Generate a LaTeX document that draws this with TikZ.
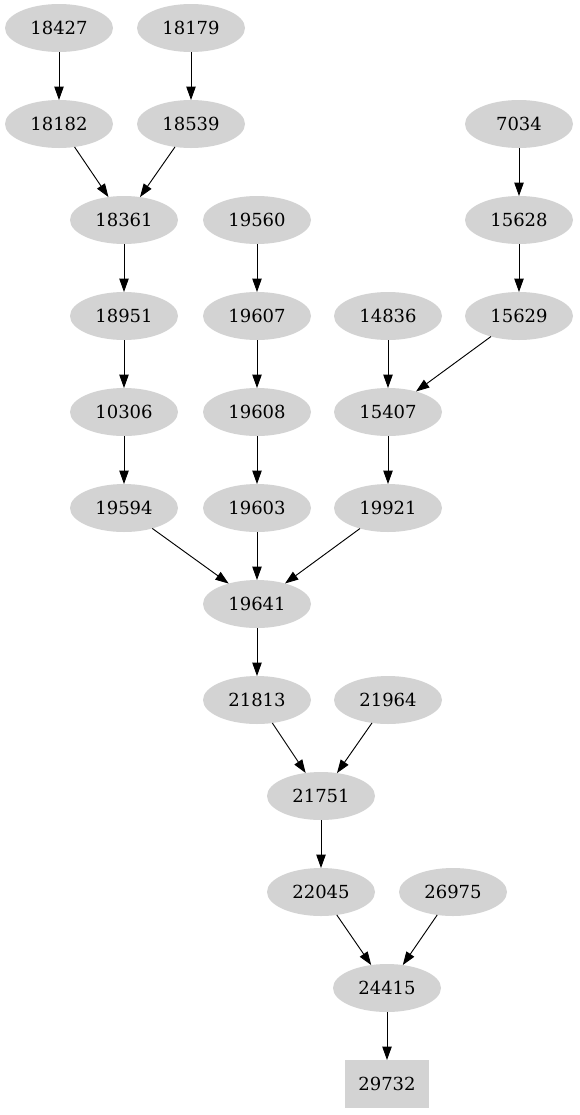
\documentclass[tikz,border=0pt]{standalone}
\usepackage{fontspec}
\setmainfont{DejaVu Serif}
\usetikzlibrary{shapes.geometric,arrows.meta}
\definecolor{nodegray}{RGB}{211,211,211}

\begin{document}
\begin{tikzpicture}[
  x=0.75pt, y=-0.75pt,
  every node/.style={font=\fontsize{13.5pt}{16pt}\selectfont},
  job/.style={ellipse, fill=nodegray, minimum width=81pt, minimum height=36pt, inner sep=0pt, outer sep=0pt},
  sink/.style={rectangle, fill=nodegray, minimum width=63pt, minimum height=36pt, inner sep=0pt, outer sep=0pt},
  arr/.style={-{Triangle[length=10pt, width=7pt]}, draw=black, line width=0.7pt}
]
\useasboundingbox (0,0) rectangle (579,1115);

% Rank 1
\node[job] (n18427) at (59,28) {18427};
\node[job] (n18179) at (191,28) {18179};

% Rank 2
\node[job] (n18182) at (59,124) {18182};
\node[job] (n18539) at (191,124) {18539};
\node[job] (n7034) at (519,124) {7034};

% Rank 3
\node[job] (n18361) at (124,220) {18361};
\node[job] (n19560) at (257,220) {19560};
\node[job] (n15628) at (519,220) {15628};

% Rank 4
\node[job] (n18951) at (124,316) {18951};
\node[job] (n19607) at (257,316) {19607};
\node[job] (n14836) at (388,316) {14836};
\node[job] (n15629) at (519,316) {15629};

% Rank 5
\node[job] (n10306) at (124,412) {10306};
\node[job] (n19608) at (257,412) {19608};
\node[job] (n15407) at (388,412) {15407};

% Rank 6
\node[job] (n19594) at (124,508) {19594};
\node[job] (n19603) at (257,508) {19603};
\node[job] (n19921) at (388,508) {19921};

% Rank 7
\node[job] (n19641) at (257,604) {19641};

% Rank 8
\node[job] (n21813) at (257,700) {21813};
\node[job] (n21964) at (388,700) {21964};

% Rank 9
\node[job] (n21751) at (321,796) {21751};

% Rank 10
\node[job] (n22045) at (321,892) {22045};
\node[job] (n26975) at (453,892) {26975};

% Rank 11
\node[job] (n24415) at (387,988) {24415};

% Rank 12
\node[sink] (n29732) at (387,1084) {29732};

% Edges
\draw[arr] (n18427) -- (n18182);
\draw[arr] (n18179) -- (n18539);
\draw[arr] (n18182) -- (n18361);
\draw[arr] (n18539) -- (n18361);
\draw[arr] (n7034) -- (n15628);
\draw[arr] (n18361) -- (n18951);
\draw[arr] (n19560) -- (n19607);
\draw[arr] (n15628) -- (n15629);
\draw[arr] (n18951) -- (n10306);
\draw[arr] (n19607) -- (n19608);
\draw[arr] (n14836) -- (n15407);
\draw[arr] (n15629) -- (n15407);
\draw[arr] (n10306) -- (n19594);
\draw[arr] (n19608) -- (n19603);
\draw[arr] (n15407) -- (n19921);
\draw[arr] (n19594) -- (n19641);
\draw[arr] (n19603) -- (n19641);
\draw[arr] (n19921) -- (n19641);
\draw[arr] (n19641) -- (n21813);
\draw[arr] (n21813) -- (n21751);
\draw[arr] (n21964) -- (n21751);
\draw[arr] (n21751) -- (n22045);
\draw[arr] (n22045) -- (n24415);
\draw[arr] (n26975) -- (n24415);
\draw[arr] (n24415) -- (n29732);
\end{tikzpicture}
\end{document}
